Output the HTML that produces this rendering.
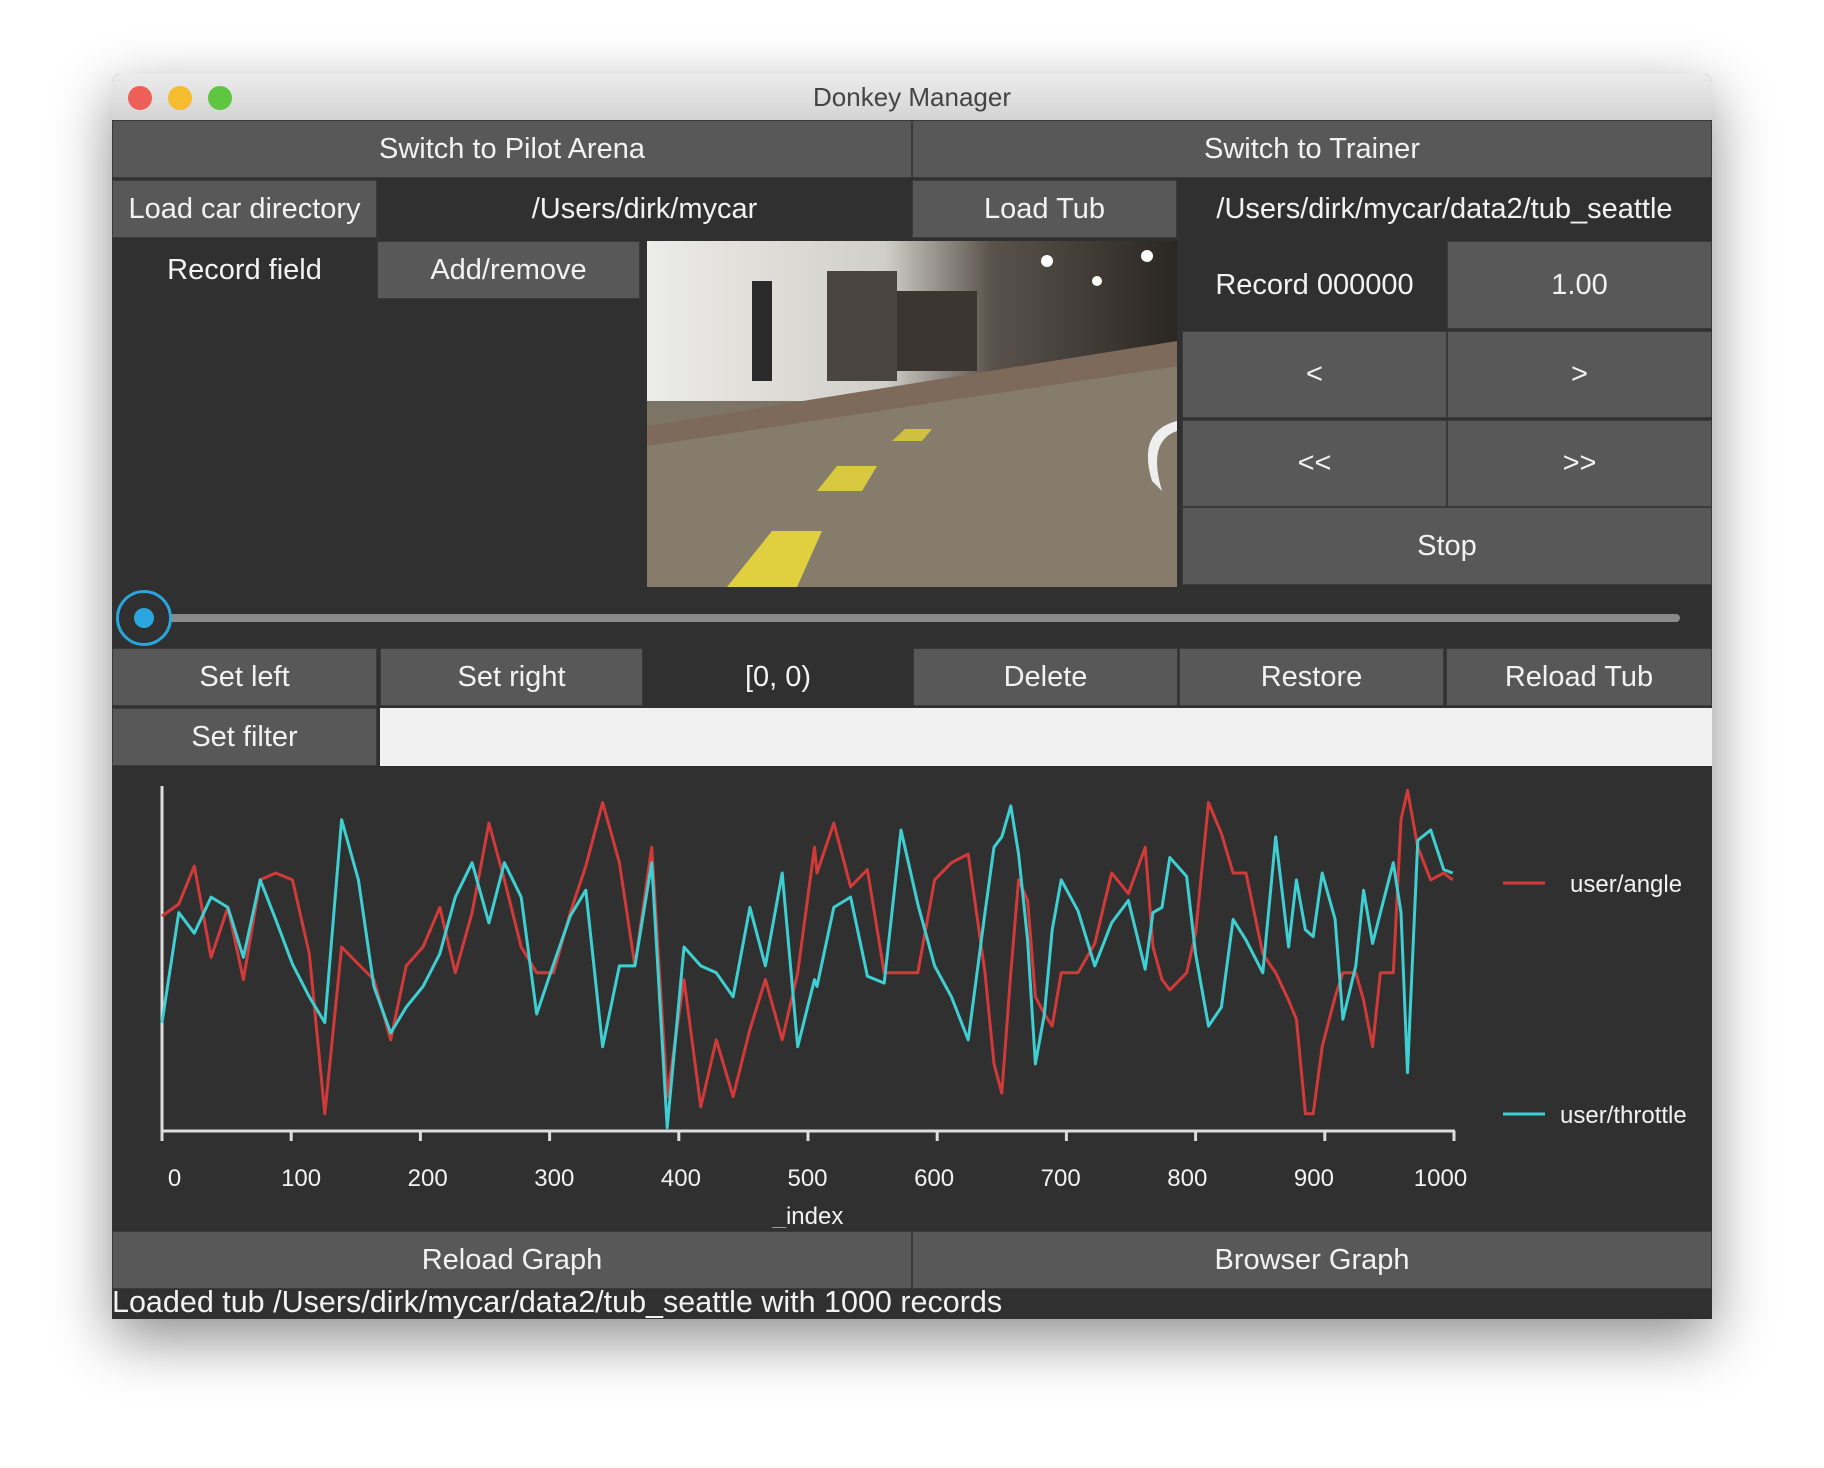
<!DOCTYPE html>
<html><head><meta charset="utf-8">
<style>
body{margin:0;width:1824px;height:1468px;background:#fff;position:relative;overflow:hidden;font-family:"Liberation Sans",sans-serif;}
#win{position:absolute;left:112px;top:74px;width:1600px;height:1245px;background:#303030;box-shadow:0 20px 60px rgba(0,0,0,0.45);border-radius:8px 8px 0 0;overflow:hidden;}
#title{position:absolute;left:0;top:0;width:1600px;height:46px;background:linear-gradient(#ececec,#d4d4d4);border-bottom:1px solid #b0b0b0;text-align:center;line-height:46px;font-size:26px;color:#444;}
.dot{position:absolute;top:12px;width:24px;height:24px;border-radius:50%;}
.b{position:absolute;background:#585858;color:#f2f2f2;font-size:29px;text-align:center;box-sizing:border-box;border:1px solid #3a3a3a;}
.l{position:absolute;color:#f2f2f2;font-size:29px;text-align:center;}
</style></head><body>
<div id="win">
<div id="title">Donkey Manager
<div class="dot" style="left:16px;background:#ee5f57"></div>
<div class="dot" style="left:56px;background:#f5bd2e"></div>
<div class="dot" style="left:96px;background:#5ec640"></div>
</div>
<div class="b" style="left:0;top:46px;width:800px;height:58px;line-height:56px">Switch to Pilot Arena</div>
<div class="b" style="left:800px;top:46px;width:800px;height:58px;line-height:56px">Switch to Trainer</div>
<div class="b" style="left:0;top:106px;width:265px;height:58px;line-height:56px">Load car directory</div>
<div class="l" style="left:265px;top:106px;width:535px;height:58px;line-height:58px">/Users/dirk/mycar</div>
<div class="b" style="left:800px;top:106px;width:265px;height:58px;line-height:56px">Load Tub</div>
<div class="l" style="left:1065px;top:106px;width:535px;height:58px;line-height:58px">/Users/dirk/mycar/data2/tub_seattle</div>
<div class="l" style="left:0;top:167px;width:265px;height:58px;line-height:58px">Record field</div>
<div class="b" style="left:265px;top:167px;width:263px;height:58px;line-height:56px">Add/remove</div>
<svg style="position:absolute;left:535px;top:167px" width="530" height="346">
<defs><linearGradient id="fl" x1="0" y1="0" x2="0" y2="1"><stop offset="0" stop-color="#6e685c"/><stop offset="1" stop-color="#8a8270"/></linearGradient>
<linearGradient id="wl" x1="0" y1="0" x2="1" y2="0"><stop offset="0" stop-color="#ecece8"/><stop offset="0.45" stop-color="#d0cec8"/><stop offset="0.65" stop-color="#5a534c"/><stop offset="1" stop-color="#2a2622"/></linearGradient></defs>
<rect width="530" height="346" fill="url(#fl)"/>
<rect width="530" height="160" fill="url(#wl)"/>
<polygon points="0,185 530,100 530,125 0,205" fill="#7e6a5a"/>
<polygon points="0,205 530,125 530,346 0,346" fill="#857c6c"/>
<rect x="105" y="40" width="20" height="100" fill="#2a2a2a"/>
<rect x="180" y="30" width="70" height="110" fill="#4a4440"/>
<rect x="250" y="50" width="80" height="80" fill="#3c3632"/>
<circle cx="400" cy="20" r="6" fill="#fff"/><circle cx="450" cy="40" r="5" fill="#fff"/><circle cx="500" cy="15" r="6" fill="#fff"/>
<polygon points="80,346 150,346 175,290 125,290" fill="#e0d040"/>
<polygon points="170,250 215,250 230,225 190,225" fill="#d8c840"/>
<polygon points="245,200 275,200 285,188 258,188" fill="#d0c040"/>
<path d="M530,180 Q490,190 505,240 L515,250 Q500,200 530,190Z" fill="#eee"/>
</svg>
<div class="l" style="left:1070px;top:167px;width:265px;height:88px;line-height:88px">Record 000000</div>
<div class="b" style="left:1335px;top:167px;width:265px;height:88px;line-height:86px">1.00</div>
<div class="b" style="left:1070px;top:257px;width:265px;height:87px;line-height:85px">&lt;</div>
<div class="b" style="left:1335px;top:257px;width:265px;height:87px;line-height:85px">&gt;</div>
<div class="b" style="left:1070px;top:346px;width:265px;height:87px;line-height:85px">&lt;&lt;</div>
<div class="b" style="left:1335px;top:346px;width:265px;height:87px;line-height:85px">&gt;&gt;</div>
<div class="b" style="left:1070px;top:433px;width:530px;height:78px;line-height:76px">Stop</div>
<div style="position:absolute;left:50px;top:540px;width:1518px;height:8px;background:#8a8a8a;border-radius:4px"></div>
<div style="position:absolute;left:4px;top:516px;width:50px;height:50px;border:3px solid #2aa6de;border-radius:50%;background:#303030"><div style="position:absolute;left:15px;top:15px;width:20px;height:20px;border-radius:50%;background:#2aa6de"></div></div>
<div class="b" style="left:0;top:574px;width:265px;height:58px;line-height:56px">Set left</div>
<div class="b" style="left:268px;top:574px;width:263px;height:58px;line-height:56px">Set right</div>
<div class="l" style="left:531px;top:574px;width:270px;height:58px;line-height:58px">[0, 0)</div>
<div class="b" style="left:801px;top:574px;width:265px;height:58px;line-height:56px">Delete</div>
<div class="b" style="left:1067px;top:574px;width:265px;height:58px;line-height:56px">Restore</div>
<div class="b" style="left:1334px;top:574px;width:266px;height:58px;line-height:56px">Reload Tub</div>
<div class="b" style="left:0;top:634px;width:265px;height:58px;line-height:56px">Set filter</div>
<div style="position:absolute;left:268px;top:634px;width:1332px;height:58px;background:#f0f0f0"></div>
<svg id="chart" style="position:absolute;left:0;top:694px" width="1600" height="460"></svg>
<div class="b" style="left:0;top:1157px;width:800px;height:58px;line-height:56px">Reload Graph</div>
<div class="b" style="left:800px;top:1157px;width:800px;height:58px;line-height:56px">Browser Graph</div>
<div style="position:absolute;left:0;top:1211px;font-size:30.5px;color:#f2f2f2;line-height:34px">Loaded tub /Users/dirk/mycar/data2/tub_seattle with 1000 records</div>
</div>
<script>
const angleIdx=[0,13,25,38,51,63,76,88,101,114,126,139,152,164,177,189,202,215,227,240,253,265,278,290,303,316,328,341,354,366,379,391,404,417,429,442,455,467,480,492,505,507,520,533,546,559,572,585,598,611,624,637,644,650,657,663,670,676,683,689,696,709,722,735,748,761,767,774,780,793,800,810,820,829,839,852,862,872,878,885,891,898,908,914,924,930,937,943,953,959,964,972,982,992,999];
const angleVals=[0.25,0.32,0.54,0.01,0.30,-0.12,0.46,0.50,0.46,0.03,-0.90,0.07,-0.03,-0.12,-0.47,-0.04,0.07,0.30,-0.08,0.27,0.79,0.46,0.07,-0.08,-0.08,0.27,0.54,0.91,0.56,-0.04,0.65,-0.80,-0.12,-0.86,-0.47,-0.80,-0.41,-0.12,-0.47,-0.08,0.65,0.50,0.79,0.42,0.52,-0.08,-0.08,-0.08,0.46,0.56,0.61,-0.08,-0.61,-0.78,-0.08,0.46,0.34,-0.22,-0.32,-0.39,-0.08,-0.08,0.09,0.50,0.38,0.65,0.07,-0.12,-0.18,-0.08,0.15,0.91,0.73,0.50,0.50,0.03,-0.08,-0.24,-0.35,-0.90,-0.90,-0.51,-0.22,-0.08,-0.08,-0.24,-0.51,-0.08,-0.08,0.81,0.98,0.65,0.46,0.50,0.46];
const throttleVals=[-0.37,0.27,0.15,0.36,0.30,0.01,0.46,0.23,-0.03,-0.22,-0.37,0.81,0.46,-0.16,-0.43,-0.28,-0.16,0.03,0.36,0.56,0.21,0.56,0.36,-0.32,-0.03,0.25,0.40,-0.51,-0.04,-0.04,0.56,-0.98,0.07,-0.04,-0.08,-0.22,0.30,-0.04,0.50,-0.51,-0.12,-0.16,0.30,0.36,-0.10,-0.14,0.75,0.32,-0.04,-0.22,-0.47,0.27,0.65,0.71,0.89,0.61,0.11,-0.61,-0.32,0.17,0.46,0.28,-0.04,0.21,0.34,-0.06,0.27,0.30,0.59,0.48,0.03,-0.39,-0.28,0.23,0.11,-0.08,0.71,0.07,0.46,0.17,0.13,0.50,0.23,-0.35,-0.04,0.40,0.09,0.27,0.56,0.27,-0.66,0.69,0.75,0.52,0.50];
const xTicks=[0,100,200,300,400,500,600,700,800,900,1000];
const seriesNames=["user/angle","user/throttle"];
const colors=["#d23a3a","#3ecfd2"];
const svg=document.getElementById('chart');
const NS='http://www.w3.org/2000/svg';
const X0=50,X1=1342,YT=19,YB=363;
function xs(i){return X0+(X1-X0)*i/1000;}
function xl(i){return X0+12.5+(X1-X0-26)*i/1000;}
function ys(v){return YB-(v+1)/2*(YB-YT);}
function mk(t,a){const e=document.createElementNS(NS,t);for(const k in a)e.setAttribute(k,a[k]);svg.appendChild(e);return e;}
const yax=mk('line',{x1:X0,y1:18,x2:X0,y2:YB+1,stroke:'#ddd','stroke-width':3});


const xax=mk('line',{x1:X0-1,y1:YB,x2:X1+1,y2:YB,stroke:'#ddd','stroke-width':3});


xTicks.forEach(t=>{
 const tk=mk('line',{x1:xs(t),y1:YB,x2:xs(t),y2:YB+10,stroke:'#ddd','stroke-width':3});
 
 
 const tl=mk('text',{x:xl(t),y:418,fill:'#f2f2f2','font-size':24,'text-anchor':'middle','font-family':'Liberation Sans'});
 tl.textContent=t;
 
 
});
const xt=mk('text',{x:696,y:456,fill:'#f2f2f2','font-size':24,'text-anchor':'middle','font-family':'Liberation Sans'});
xt.textContent='_index';


[angleVals,throttleVals].forEach((vals,s)=>{
 const pts=vals.map((v,k)=>xs(angleIdx[k]).toFixed(1)+','+ys(v).toFixed(1)).join(' ');
 const pl=mk('polyline',{points:pts,fill:'none',stroke:colors[s],'stroke-width':3,'stroke-linejoin':'round'});
 
 
 const ly=s?346:115;
 const ll=mk('line',{x1:1391,y1:ly,x2:1433,y2:ly,stroke:colors[s],'stroke-width':3});
 
 
 const lt=mk('text',{x:s?1448:1458,y:ly+9,fill:'#f2f2f2','font-size':24,'font-family':'Liberation Sans'});
 lt.textContent=seriesNames[s];
 
 
});
</script>
</body></html>
